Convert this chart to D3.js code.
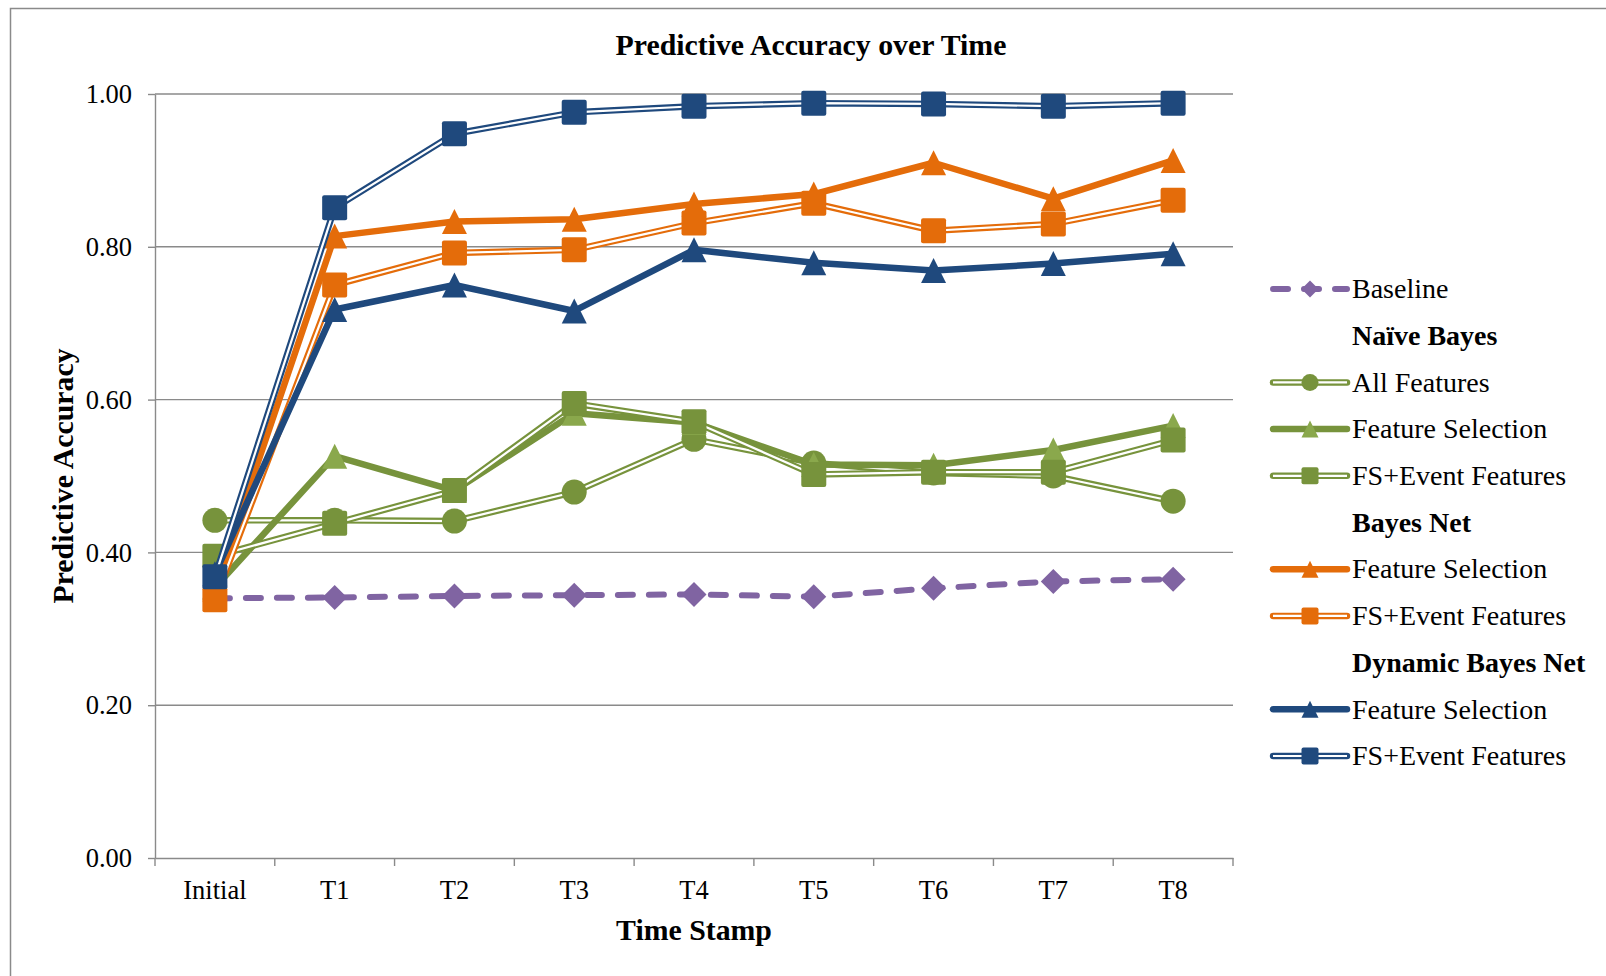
<!DOCTYPE html>
<html>
<head>
<meta charset="utf-8">
<script src="https://cdn.jsdelivr.net/npm/d3@7"></script>
<style>
  html, body { margin: 0; padding: 0; background: #fff; }
  svg { display: block; }
  text { font-family: "Liberation Serif", "Times New Roman", serif; fill: #000; }
</style>
</head>
<body>
<svg id="chart" width="1606" height="976"></svg>
<script>
// ---- data ----
const timeStamps = ["Initial", "T1", "T2", "T3", "T4", "T5", "T6", "T7", "T8"];
const yTicks = [0, 0.2, 0.4, 0.6, 0.8, 1.0];

const baseline            = [0.340, 0.341, 0.343, 0.344, 0.345, 0.342, 0.353, 0.362, 0.365];
const nbAllFeatures       = [0.442, 0.442, 0.441, 0.479, 0.548, 0.517, 0.504, 0.500, 0.467];
const nbFeatureSelection  = [0.354, 0.526, 0.481, 0.582, 0.570, 0.515, 0.514, 0.534, 0.566];
const nbFsEventFeatures   = [0.395, 0.438, 0.481, 0.595, 0.571, 0.502, 0.505, 0.505, 0.547];
const bnFeatureSelection  = [0.352, 0.814, 0.833, 0.836, 0.856, 0.869, 0.910, 0.863, 0.913];
const bnFsEventFeatures   = [0.338, 0.750, 0.792, 0.796, 0.831, 0.857, 0.821, 0.830, 0.861];
const dbnFeatureSelection = [0.372, 0.718, 0.750, 0.716, 0.796, 0.779, 0.769, 0.778, 0.791];
const dbnFsEventFeatures  = [0.368, 0.851, 0.948, 0.976, 0.984, 0.988, 0.987, 0.984, 0.988];

const PURPLE = "#8064A2", GREEN = "#77933C", GREEN_LIGHT = "#8AA84C",
      ORANGE = "#E46C0A", BLUE = "#1F497D", GRID = "#8a8a8a";

const seriesList = [
  { name: "Baseline",           group: null,                values: baseline,            color: PURPLE, line: "dash",   marker: "diamond",  fill: PURPLE },
  { name: "All Features",       group: "Naïve Bayes",       values: nbAllFeatures,       color: GREEN,  line: "double", marker: "circle",   fill: GREEN },
  { name: "Feature Selection",  group: "Naïve Bayes",       values: nbFeatureSelection,  color: GREEN,  line: "thick",  marker: "triangle", fill: GREEN_LIGHT },
  { name: "FS+Event Features",  group: "Naïve Bayes",       values: nbFsEventFeatures,   color: GREEN,  line: "double", marker: "square",   fill: GREEN },
  { name: "Feature Selection",  group: "Bayes Net",         values: bnFeatureSelection,  color: ORANGE, line: "thick",  marker: "triangle", fill: ORANGE },
  { name: "FS+Event Features",  group: "Bayes Net",         values: bnFsEventFeatures,   color: ORANGE, line: "double", marker: "square",   fill: ORANGE },
  { name: "Feature Selection",  group: "Dynamic Bayes Net", values: dbnFeatureSelection, color: BLUE,   line: "thick",  marker: "triangle", fill: BLUE },
  { name: "FS+Event Features",  group: "Dynamic Bayes Net", values: dbnFsEventFeatures,  color: BLUE,   line: "double", marker: "square",   fill: BLUE }
];

// ---- layout ----
const svg = d3.select("#chart");
const plot = { left: 155, right: 1233, top: 94, bottom: 858 };

const x = d3.scaleBand().domain(timeStamps).range([plot.left, plot.right]).padding(0);
const y = d3.scaleLinear().domain([0, 1]).range([plot.bottom, plot.top]);
const cx = d => x(d) + x.bandwidth() / 2;

// chart frame
svg.append("rect")
  .attr("x", 10.5).attr("y", 8.5).attr("width", 1700).attr("height", 1100)
  .attr("fill", "none").attr("stroke", GRID).attr("stroke-width", 1.5);

// title
svg.append("text")
  .attr("x", 811).attr("y", 45).attr("dy", "0.33em")
  .attr("text-anchor", "middle")
  .style("font-size", "29.8px").style("font-weight", "bold")
  .text("Predictive Accuracy over Time");

// horizontal gridlines
svg.append("g").selectAll("line")
  .data(yTicks.filter(v => v > 0))
  .join("line")
  .attr("x1", plot.left).attr("x2", plot.right)
  .attr("y1", d => y(d)).attr("y2", d => y(d))
  .attr("stroke", GRID).attr("stroke-width", 1.4);

// y axis
const yAxis = svg.append("g")
  .attr("transform", `translate(${plot.left},0)`)
  .call(d3.axisLeft(y).tickValues(yTicks).tickFormat(d3.format(".2f"))
    .tickSize(7).tickSizeOuter(0).tickPadding(16));
yAxis.select(".domain").attr("stroke", GRID).attr("stroke-width", 1.4);
yAxis.selectAll(".tick line").attr("stroke", GRID).attr("stroke-width", 1.4);
yAxis.selectAll(".tick text")
  .attr("dy", "0.33em")
  .style("font-size", "26.5px").style("font-family", "'Liberation Serif', serif").attr("fill", "#000");

// x axis
const xAxis = svg.append("g")
  .attr("transform", `translate(0,${plot.bottom})`)
  .call(d3.axisBottom(x).tickSize(0).tickSizeOuter(0));
xAxis.select(".domain").attr("stroke", GRID).attr("stroke-width", 1.4);
xAxis.selectAll(".tick text")
  .attr("y", 32).attr("dy", "0.33em")
  .style("font-size", "26.5px").style("font-family", "'Liberation Serif', serif").attr("fill", "#000");

// category boundary tick marks
const boundaries = timeStamps.map(d => x(d)).concat([x(timeStamps[timeStamps.length - 1]) + x.bandwidth()]);
svg.append("g").selectAll("line")
  .data(boundaries)
  .join("line")
  .attr("x1", d => d).attr("x2", d => d)
  .attr("y1", plot.bottom).attr("y2", plot.bottom + 8)
  .attr("stroke", GRID).attr("stroke-width", 1.4);

// axis titles
svg.append("text")
  .attr("x", (plot.left + plot.right) / 2).attr("y", 930).attr("dy", "0.33em")
  .attr("text-anchor", "middle")
  .style("font-size", "29.8px").style("font-weight", "bold")
  .text("Time Stamp");

svg.append("text")
  .attr("transform", `translate(63,${(plot.top + plot.bottom) / 2}) rotate(-90)`)
  .attr("dy", "0.33em")
  .attr("text-anchor", "middle")
  .style("font-size", "29.8px").style("font-weight", "bold")
  .text("Predictive Accuracy");

// ---- marker shapes ----
function markerPath(type, s) {
  const h = s / 2;
  if (type === "triangle") return `M0,${-h}L${h},${h}L${-h},${h}Z`;
  if (type === "diamond") return `M0,${-h}L${h},0L0,${h}L${-h},0Z`;
  if (type === "circle") return d3.symbol(d3.symbolCircle, Math.PI * h * h)();
  // square with slightly rounded corners
  const r = 2;
  return `M${-h + r},${-h}H${h - r}Q${h},${-h} ${h},${-h + r}V${h - r}Q${h},${h} ${h - r},${h}` +
         `H${-h + r}Q${-h},${h} ${-h},${h - r}V${-h + r}Q${-h},${-h} ${-h + r},${-h}Z`;
}

function drawStroke(g, pathData, s) {
  if (s.line === "dash") {
    g.append("path").attr("d", pathData)
      .attr("fill", "none").attr("stroke", s.color).attr("stroke-width", 6)
      .attr("stroke-dasharray", "15 16").attr("stroke-linecap", "round").attr("stroke-linejoin", "round");
  } else if (s.line === "thick") {
    g.append("path").attr("d", pathData)
      .attr("fill", "none").attr("stroke", s.color).attr("stroke-width", 6.5)
      .attr("stroke-linecap", "round").attr("stroke-linejoin", "round");
  } else {
    g.append("path").attr("d", pathData)
      .attr("fill", "none").attr("stroke", s.color).attr("stroke-width", 6.5)
      .attr("stroke-linecap", "round").attr("stroke-linejoin", "round");
    g.append("path").attr("d", pathData)
      .attr("fill", "none").attr("stroke", "#fff").attr("stroke-width", 2.2)
      .attr("stroke-linecap", "butt").attr("stroke-linejoin", "round");
  }
}

// ---- series ----
const lineGen = d3.line().x(d => cx(d.t)).y(d => y(d.v));
const seriesLayer = svg.append("g");
seriesList.forEach(s => {
  const pts = timeStamps.map((t, i) => ({ t, v: s.values[i] }));
  const g = seriesLayer.append("g");
  drawStroke(g, lineGen(pts), s);
  g.selectAll("path.marker")
    .data(pts)
    .join("path")
    .attr("class", "marker")
    .attr("transform", d => `translate(${cx(d.t)},${y(d.v)})`)
    .attr("d", markerPath(s.marker, 25))
    .attr("fill", s.fill);
});

// ---- legend ----
const legendRows = [];
let lastGroup = null;
seriesList.forEach(s => {
  if (s.group && s.group !== lastGroup) legendRows.push({ header: s.group });
  lastGroup = s.group;
  legendRows.push({ series: s });
});

const legend = svg.append("g");
const lgX0 = 1273, lgX1 = 1347, lgText = 1352, lgY0 = 289, lgStep = 46.7;
legendRows.forEach((row, i) => {
  const ly = lgY0 + i * lgStep;
  const g = legend.append("g");
  if (row.series) {
    const s = row.series;
    drawStroke(g, `M${lgX0},${ly}H${lgX1}`, s);
    g.append("path")
      .attr("transform", `translate(${(lgX0 + lgX1) / 2},${ly})`)
      .attr("d", markerPath(s.marker, 17))
      .attr("fill", s.fill);
  }
  g.append("text")
    .attr("x", lgText).attr("y", ly).attr("dy", "0.33em")
    .style("font-size", "28px")
    .style("font-weight", row.header ? "bold" : "normal")
    .text(row.header || row.series.name);
});
</script>
</body>
</html>
